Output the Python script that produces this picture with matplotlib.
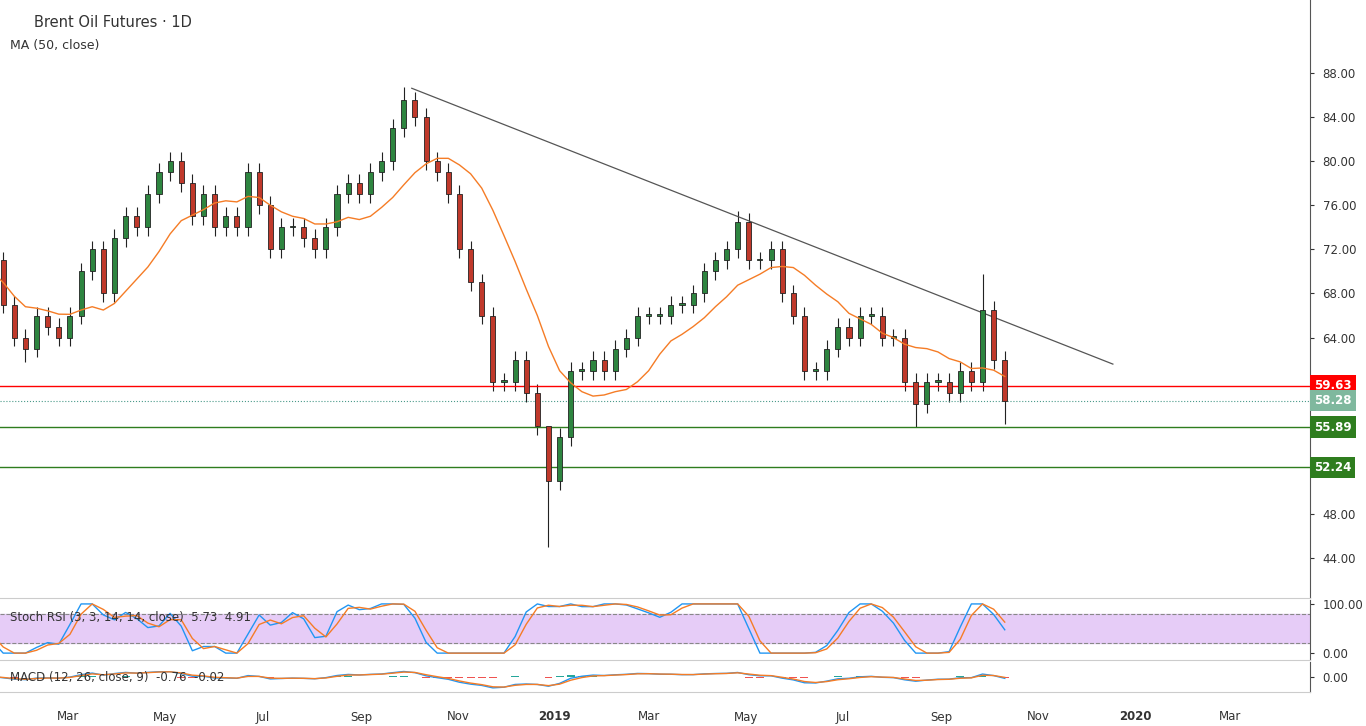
import numpy as np
import pandas as pd
import matplotlib.pyplot as plt
from matplotlib.patches import Rectangle

plt.rcParams['font.family'] = ['DejaVu Sans']

# weekly closes (Jan 2018 .. Oct 2019)
start = '2018-01-05'
closes = [69, 71, 67, 64, 63, 66, 65, 64, 66, 70, 72, 68, 73, 75, 74, 77, 79, 80, 78, 75,
          77, 74, 75, 74, 79, 76, 72, 74, 74, 73, 72, 74, 77, 78, 77, 79, 80, 83, 85.5, 84,
          80, 79, 77, 72, 69, 66, 60, 60, 62, 59, 56, 51, 55, 61, 61, 62, 61, 63, 64, 66,
          66, 66, 67, 67, 68, 70, 71, 72, 74.5, 71, 71, 72, 68, 66, 61, 61, 63, 65, 64, 66,
          66, 64, 64, 60, 58, 60, 60, 59, 61, 60, 66.5, 62, 58.3]
high_over = {38: 86.7, 51: 53.5, 68: 75.5, 90: 69.8}
low_over = {51: 45.0, 4: 61.8, 84: 55.9, 92: 56.2}
levels = [(59.63, '#ff0000'), (55.89, '#2e7d1e'), (52.24, '#2e7d1e')]
last_price = 58.28
trend = [('2018-10-03', 86.6), ('2019-12-18', 61.6)]
price_ticks = [44, 48, 64, 68, 72, 76, 80, 84, 88]

dates = pd.date_range(start, periods=len(closes), freq='7D')
c = np.array(closes, float)
o = np.r_[68.0, c[:-1]]
h = np.maximum(o, c) + 0.8
l = np.minimum(o, c) - 0.8
for k, v in high_over.items():
    h[k] = v
for k, v in low_over.items():
    l[k] = v

ref = pd.Timestamp('2019-01-01')
x = np.array([(d - ref).days for d in dates], float)

W, H = 1366, 726
fig = plt.figure(figsize=(W / 100, H / 100), dpi=100)
fig.patch.set_facecolor('white')
ax = fig.add_axes([0, 128 / H, 1310 / W, 598 / H])
ax2 = fig.add_axes([0, 66 / H, 1310 / W, 60 / H], sharex=ax)
ax3 = fig.add_axes([0, 34 / H, 1310 / W, 30 / H], sharex=ax)
xmin, xmax = -349, 475
for a in (ax, ax2, ax3):
    a.set_xlim(xmin, xmax)
    a.yaxis.tick_right()
    a.tick_params(axis='y', length=3, labelsize=8.5, colors='#333333', pad=6)
    a.tick_params(axis='x', length=0, labelbottom=False)
    for s in ('top', 'left'):
        a.spines[s].set_visible(False)
    a.spines['right'].set_color('#555555')
    a.spines['bottom'].set_color('#cccccc')

ax.set_ylim(40.4, 94.6)
ax.set_yticks(price_ticks)
ax.set_yticklabels([f'{v:.2f}' for v in price_ticks])

cw = 3.2
for xi, oi, hi, li, ci in zip(x, o, h, l, c):
    col = '#2e8540' if ci >= oi else '#c0392b'
    ax.vlines(xi, li, hi, color='#222222', lw=0.8, zorder=2)
    ax.add_patch(Rectangle((xi - cw / 2, min(oi, ci)), cw, max(abs(ci - oi), 0.15),
                           facecolor=col, edgecolor='#222222', lw=0.6, zorder=3))

ma = pd.Series(c).rolling(10, min_periods=1).mean()
ax.plot(x, ma, color='#f57c26', lw=1, zorder=4)

tx = [(pd.Timestamp(d) - ref).days for d, _ in trend]
ax.plot(tx, [p for _, p in trend], color='#555555', lw=0.9)

for val, col in levels:
    ax.axhline(val, color=col, lw=1)
    ax.text(1.003, val, f'{val:.2f}', transform=ax.get_yaxis_transform(), va='center',
            ha='left', fontsize=8.5, color='white', fontweight='bold',
            bbox=dict(boxstyle='square,pad=0.35', fc=col, ec='none'))
ax.axhline(last_price, color='#4a9a8a', lw=0.8, ls=':')
ax.text(1.003, last_price, f'{last_price:.2f}', transform=ax.get_yaxis_transform(),
        va='center', ha='left', fontsize=8.5, color='white', fontweight='bold',
        bbox=dict(boxstyle='square,pad=0.35', fc='#7fb89e', ec='none'))

ax.text(0.026, 0.975, 'Brent Oil Futures · 1D', transform=ax.transAxes, fontsize=10.5,
        color='#333333', va='top')
ax.text(0.008, 0.935, 'MA (50, close)', transform=ax.transAxes, fontsize=9,
        color='#333333', va='top')

# Stoch RSI
s = pd.Series(c)
d = s.diff()
up = d.clip(lower=0).rolling(6, min_periods=1).mean()
dn = (-d.clip(upper=0)).rolling(6, min_periods=1).mean()
rsi = 100 - 100 / (1 + up / dn.replace(0, 1e-9))
lo = rsi.rolling(6, min_periods=1).min()
hi = rsi.rolling(6, min_periods=1).max()
st = ((rsi - lo) / (hi - lo).replace(0, 1e-9) * 100).fillna(50)
k_line = st.rolling(2, min_periods=1).mean()
d_line = k_line.rolling(2, min_periods=1).mean()
ax2.axhspan(20, 80, color='#e6ccf7')
ax2.axhline(80, color='#888888', lw=0.8, ls='--')
ax2.axhline(20, color='#888888', lw=0.8, ls='--')
ax2.plot(x, k_line, color='#2196f3', lw=1)
ax2.plot(x, d_line, color='#f57c26', lw=1)
ax2.set_ylim(-14, 108)
ax2.set_yticks([0, 100])
ax2.set_yticklabels(['0.00', '100.00'])
ax2.text(0.008, 0.7, 'Stoch RSI (3, 3, 14, 14, close)  5.73  4.91', transform=ax2.transAxes,
         fontsize=8.5, color='#333333', va='center')

# MACD
e12 = s.ewm(span=3).mean()
e26 = s.ewm(span=6).mean()
macd = e12 - e26
sig = macd.ewm(span=2).mean()
hist = macd - sig
ax3.bar(x, hist, width=5, color=np.where(hist >= 0, '#26a69a', '#ef5350'))
ax3.plot(x, macd, color='#2196f3', lw=1)
ax3.plot(x, sig, color='#f57c26', lw=1)
ax3.set_ylim(-6, 6)
ax3.set_yticks([0])
ax3.set_yticklabels(['0.00'])
ax3.text(0.008, 0.5, 'MACD (12, 26, close, 9)  -0.76  -0.02', transform=ax3.transAxes,
         fontsize=8.5, color='#333333', va='center')

ticks = ['2018-03-01', '2018-05-01', '2018-07-01', '2018-09-01', '2018-11-01', '2019-01-01',
         '2019-03-01', '2019-05-01', '2019-07-01', '2019-09-01', '2019-11-01', '2020-01-01',
         '2020-03-01']
labels = ['Mar', 'May', 'Jul', 'Sep', 'Nov', '2019', 'Mar', 'May', 'Jul', 'Sep', 'Nov', '2020', 'Mar']
for t, lab in zip(ticks, labels):
    xv = (pd.Timestamp(t) - ref).days
    fig.text((xv - xmin) / (xmax - xmin) * 1310 / W, 9 / H, lab,
             ha='center', va='center', fontsize=8.5, color='#333333',
             fontweight='bold' if lab.isdigit() else 'normal')

fig.savefig('out.png', dpi=100)
